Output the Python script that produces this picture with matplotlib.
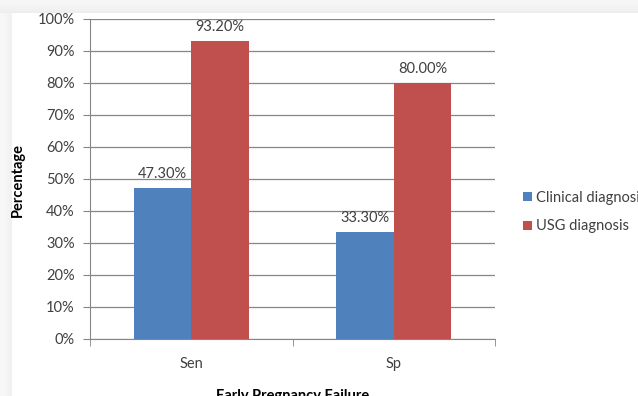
import matplotlib.pyplot as plt
import numpy as np
from matplotlib.patches import Rectangle

# donnees du graphique
categories = ["Sen", "Sp"]
clinical = [47.3, 33.3]
usg = [93.2, 80.0]
series_names = ["Clinical diagnosis", "USG diagnosis"]
couleurs = ["#4F81BD", "#C0504D"]
y_ticks = [0, 10, 20, 30, 40, 50, 60, 70, 80, 90, 100]

plt.rcParams['font.family'] = ['Lato', 'DejaVu Sans']
texte = "#404040"
taille = 10.5

fig = plt.figure(figsize=(6.38, 3.96), dpi=100)
fig.patch.set_facecolor("white")

# bordure grise en haut et a gauche (ombre)
W, H = 638, 396
for i in range(13):
    g = 0.965 - 0.035 * (i / 12) ** 2
    fig.patches.append(Rectangle((0, 1 - (i + 1) / H), 1, 1 / H, transform=fig.transFigure,
                                 facecolor=(g, g, g), edgecolor="none", zorder=0))
for i in range(12):
    g = 0.97 - 0.03 * (i / 11) ** 2
    fig.patches.append(Rectangle((i / W, 0), 1 / W, 1 - 13 / H, transform=fig.transFigure,
                                 facecolor=(g, g, g), edgecolor="none", zorder=0))

ax = fig.add_axes([90 / W, 1 - 339 / H, 405 / W, 320 / H])
ax.set_facecolor("white")

x = np.arange(len(categories))
largeur = 0.285
b1 = ax.bar(x - largeur / 2, clinical, largeur, color=couleurs[0], label=series_names[0], zorder=3)
b2 = ax.bar(x + largeur / 2, usg, largeur, color=couleurs[1], label=series_names[1], zorder=3)

for barres in (b1, b2):
    for b in barres:
        ax.annotate(f"{b.get_height():.2f}%", (b.get_x() + b.get_width() / 2, b.get_height()),
                    xytext=(0, 5), textcoords="offset points", ha="center", va="bottom",
                    fontsize=taille, color=texte)

ax.set_xlim(-0.5, len(categories) - 0.5)
ax.set_ylim(0, 100)
ax.set_yticks(y_ticks)
ax.set_yticklabels([f"{v}%" for v in y_ticks], fontsize=taille, color=texte)
ax.set_xticks(x)
ax.set_xticklabels(categories, fontsize=taille, color=texte)
ax.set_xticks([-0.5, 0.5, 1.5], minor=True)
ax.tick_params(axis="x", which="major", length=0, pad=13)
ax.tick_params(axis="x", which="minor", length=5, color="#868686")
ax.tick_params(axis="y", length=5, color="#868686", pad=6)

ax.grid(axis="y", color="#868686", linewidth=0.9, zorder=0)
for s in ["top", "right"]:
    ax.spines[s].set_visible(False)
for s in ["left", "bottom"]:
    ax.spines[s].set_color("#868686")

fig.text(18 / W, 1 - 180 / H, "Percentage", rotation=90, ha="center", va="center",
         fontsize=taille, fontweight="bold", color="#000000")
fig.text(293 / W, 0.0, "Early Pregnancy Failure", ha="center", va="center",
         fontsize=taille, fontweight="bold", color="#000000")

ax.legend(loc="center left", bbox_to_anchor=(510 / W, 1 - 212 / H), bbox_transform=fig.transFigure,
          frameon=False, fontsize=taille, handlelength=0.6, handleheight=0.6, handletextpad=0.3,
          labelspacing=1.0, labelcolor=texte)

fig.savefig("out.png", dpi=100)
